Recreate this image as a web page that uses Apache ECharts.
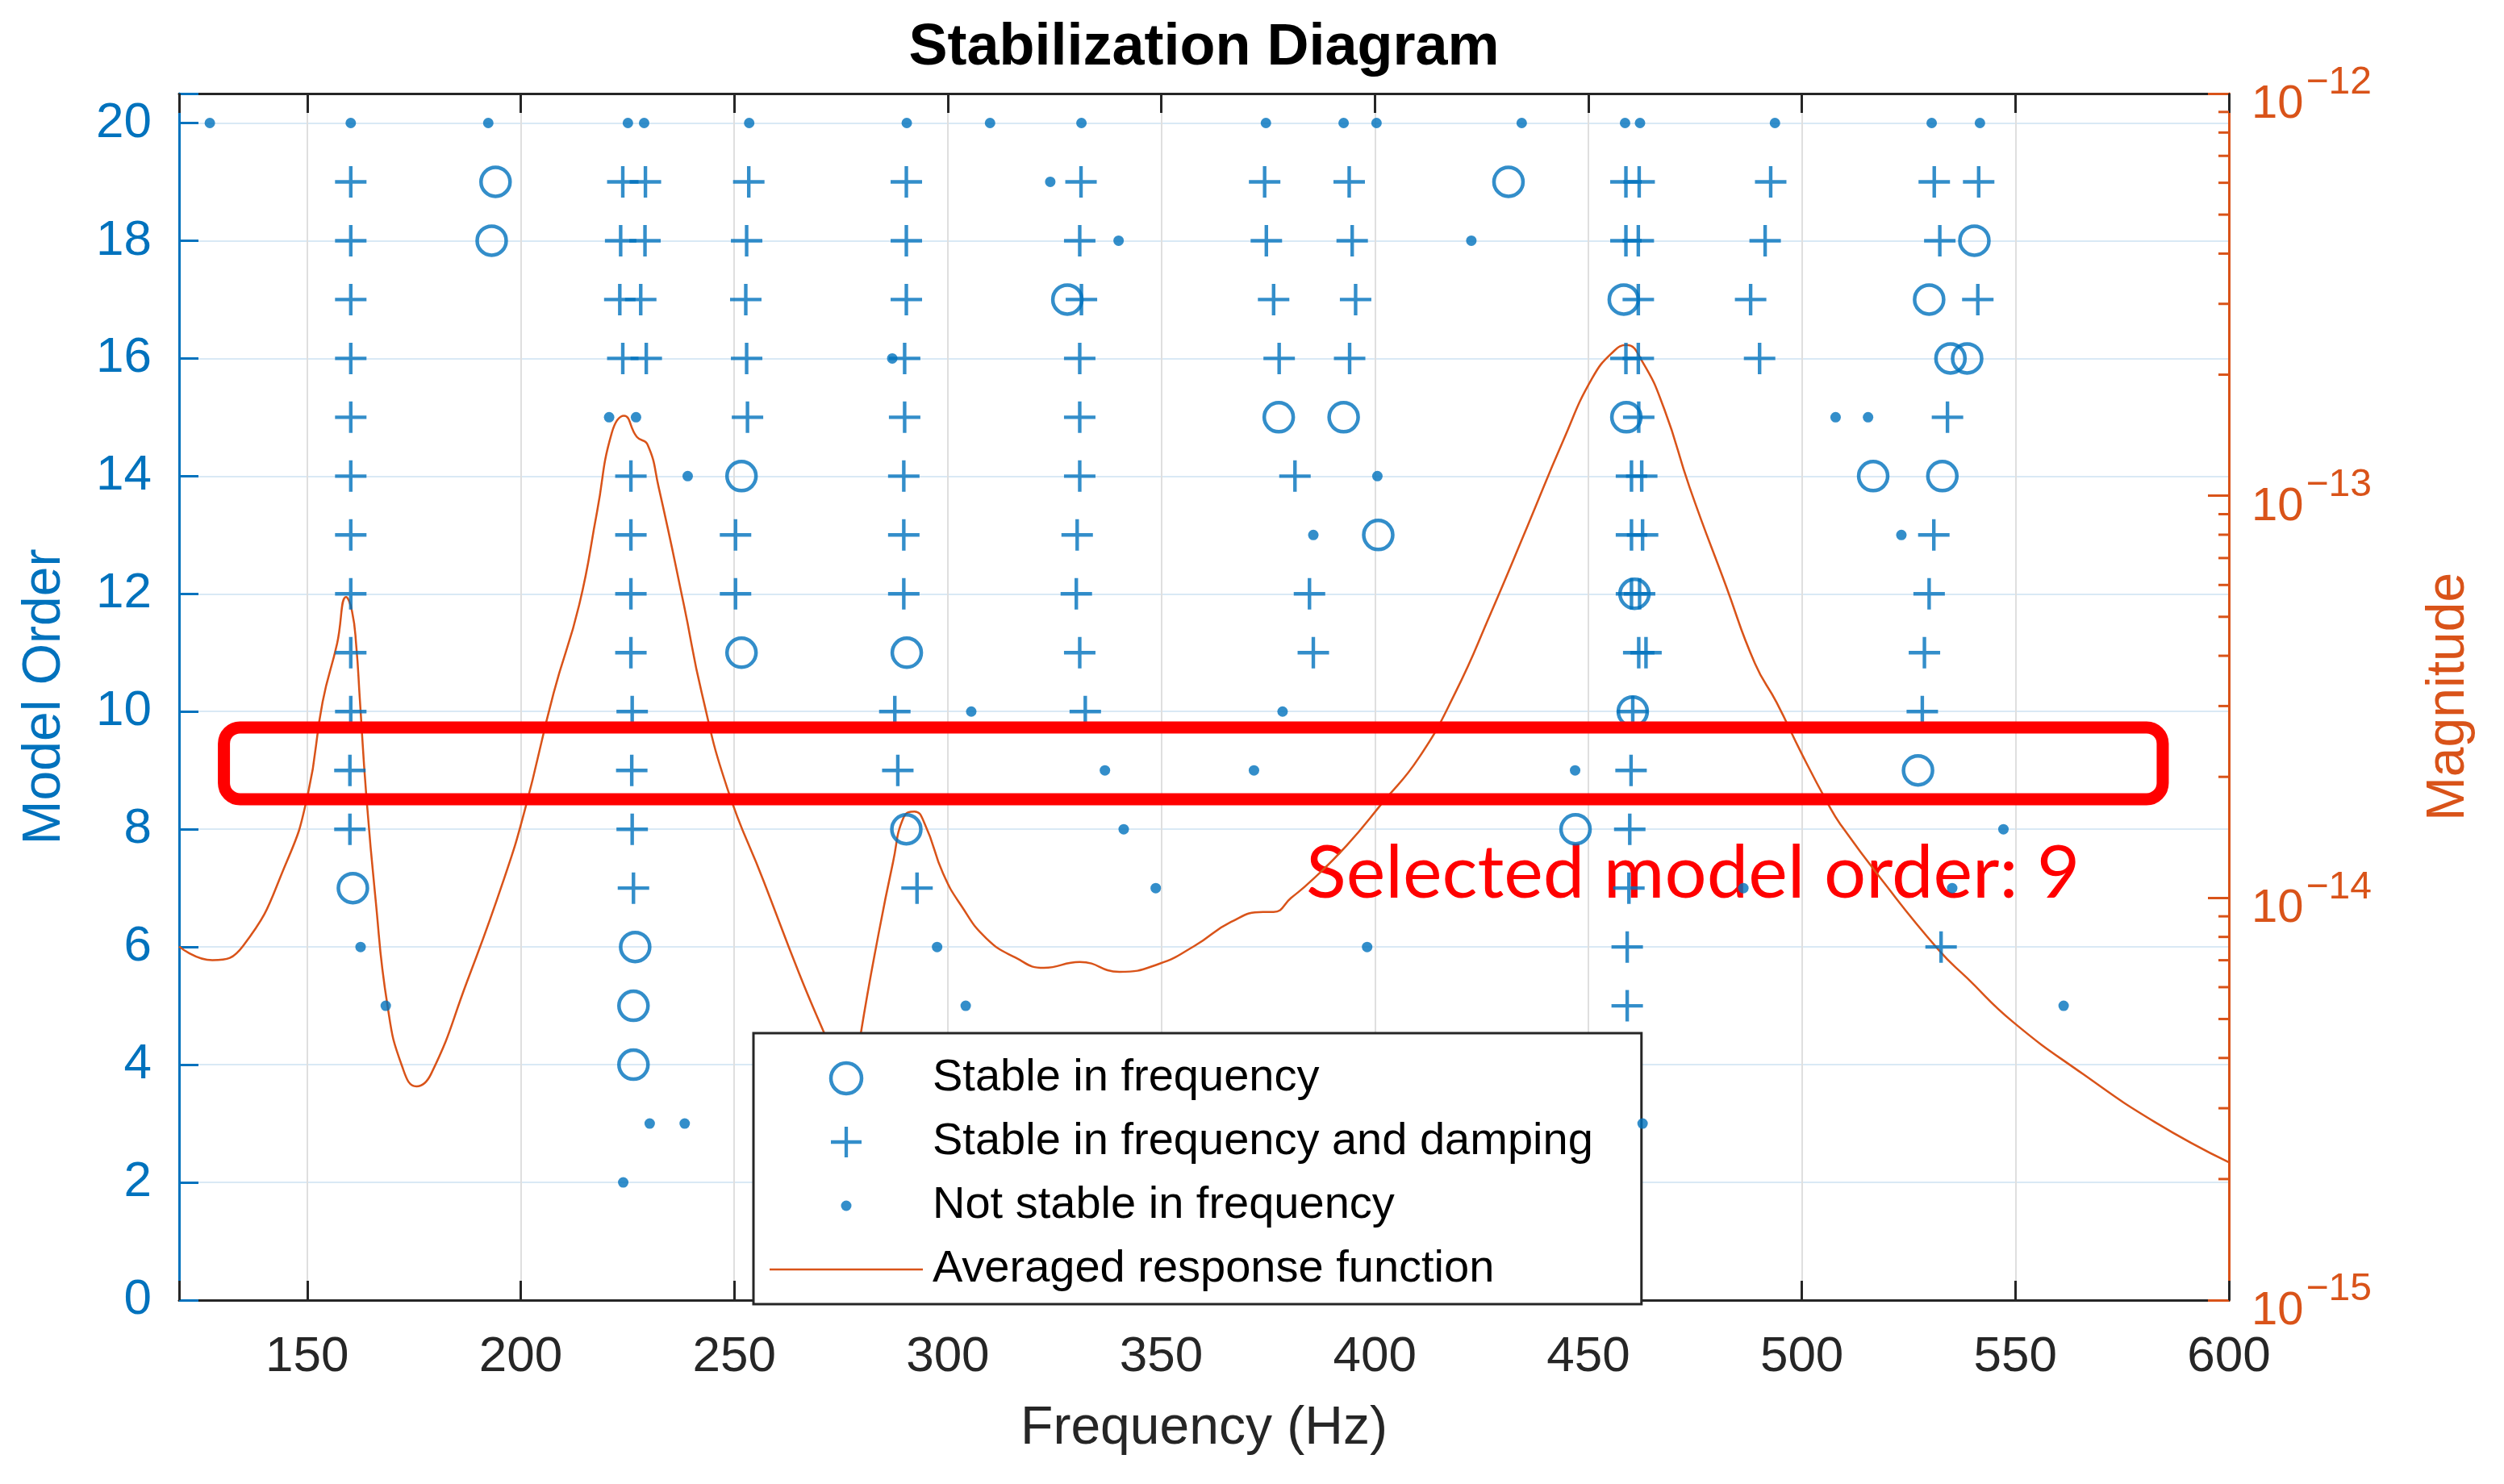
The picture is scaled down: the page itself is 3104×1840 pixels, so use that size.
<!DOCTYPE html>
<html>
<head>
<meta charset="utf-8">
<script src="https://cdn.jsdelivr.net/npm/echarts@6/dist/echarts.min.js"></script>
<style>html,body{margin:0;padding:0;background:#fff}#c{width:3104px;height:1840px}</style>
</head>
<body>
<div id="c"></div>
<script>
// ---------------- DATA ----------------
// [frequency (Hz), model order]
const stableFreqPts = [
  [194.1,19],[431.3,19],[193.2,18],[540.4,18],[328.0,17],[458.3,17],[529.8,17],
  [534.8,16],[538.7,16],[377.5,15],[392.7,15],[458.9,15],[251.7,14],[516.7,14],[532.9,14],
  [400.8,13],[460.8,12],[251.7,11],[290.4,11],[460.4,10],[527.2,9],[290.3,8],[447.0,8],
  [160.7,7],[226.8,6],[226.4,5],[226.4,4]
];
const stableFreqDampPts = [
  [160.2,19],[223.9,19],[229.2,19],[253.4,19],[290.3,19],[331.2,19],[374.2,19],[394.0,19],[458.8,19],[461.9,19],[492.7,19],[531.0,19],[541.4,19],
  [160.2,18],[223.4,18],[229.1,18],[252.9,18],[290.3,18],[330.9,18],[374.6,18],[394.7,18],[458.8,18],[461.7,18],[491.4,18],[532.3,18],
  [160.2,17],[223.2,17],[228.1,17],[252.7,17],[290.3,17],[331.3,17],[376.3,17],[395.5,17],[461.7,17],[488.0,17],[541.2,17],
  [160.2,16],[223.9,16],[229.4,16],[252.9,16],[289.9,16],[330.9,16],[377.6,16],[394.1,16],[458.8,16],[461.7,16],[490.1,16],
  [160.2,15],[253.1,15],[289.9,15],[330.9,15],[461.8,15],[534.1,15],
  [160.2,14],[225.8,14],[289.7,14],[330.9,14],[381.3,14],[460.1,14],[462.5,14],
  [160.2,13],[225.8,13],[250.3,13],[289.7,13],[330.3,13],[460.1,13],[462.7,13],[530.9,13],
  [160.2,12],[225.8,12],[250.3,12],[289.7,12],[330.1,12],[384.7,12],[460.1,12],[462.0,12],[529.8,12],
  [160.2,11],[225.8,11],[330.9,11],[385.6,11],[461.8,11],[463.5,11],[528.7,11],
  [160.2,10],[226.1,10],[287.6,10],[332.2,10],[460.4,10],[528.2,10],
  [160.0,9],[226.0,9],[288.3,9],[460.0,9],
  [160.0,8],[226.1,8],[459.7,8],
  [226.4,7],[292.8,7],[459.5,7],
  [459.1,6],[532.6,6],
  [459.1,5]
];
const notStablePts = [
  [127.2,20],[160.2,20],[192.4,20],[225.1,20],[228.9,20],[253.5,20],[290.4,20],[309.9,20],[331.3,20],[374.5,20],
  [392.7,20],[400.4,20],[434.4,20],[458.6,20],[462.1,20],[493.7,20],[530.4,20],[541.7,20],
  [324.0,19],[340.0,18],[422.6,18],[287.0,16],
  [220.7,15],[227.0,15],[507.9,15],[515.5,15],
  [239.1,14],[400.6,14],[385.6,13],[523.3,13],
  [305.5,10],[378.4,10],[336.8,9],[371.7,9],[446.9,9],
  [341.2,8],[547.2,8],[348.7,7],[486.3,7],[535.2,7],
  [162.5,6],[297.5,6],[398.2,6],[168.4,5],[304.2,5],[561.3,5],
  [230.2,3],[238.4,3],[462.7,3],[224.0,2]
];
// Averaged response function (right axis, log magnitude)
const responseFreq = [120,127.8,135,145.2,150.2,153.6,157,159.1,160.5,161.5,162.3,163.8,165.9,168.8,172.2,175.6,179,187.4,195.9,201,
  207.7,213.7,217.9,221.3,224.2,227.2,229.7,232.3,238.2,242.4,248.4,256.9,265.2,271.2,274,276.5,278.5,279.6,283.8,287.2,
  289.7,292.2,294.7,298.9,303.2,309.0,315.8,322.5,330.9,340.2,349.4,357.8,366.3,373.8,376.3,380.4,385.0,393.4,401.9,410.3,
  418.8,427.2,435.7,444.1,450.9,456.0,458.9,462.7,467.8,473.7,482.2,489.0,494.1,499.9,506.3,509.1,518.4,532.0,538.7,549.5,
  565.8,582.7,600];
const responseMag = [7.57e-15,7.00e-15,7.60e-15,1.23e-14,1.82e-14,3.07e-14,4.29e-14,5.60e-14,5.16e-14,4.22e-14,3.15e-14,1.82e-14,1.02e-14,5.40e-15,3.82e-15,3.40e-15,3.65e-15,6.18e-15,1.10e-14,1.66e-14,
  3.23e-14,5.36e-14,9.16e-14,1.43e-13,1.58e-13,1.40e-13,1.34e-13,1.05e-13,5.36e-14,3.23e-14,1.87e-14,1.10e-14,6.49e-15,4.58e-15,3.93e-15,3.42e-15,3.68e-15,4.58e-15,8.15e-15,1.23e-14,
  1.59e-14,1.64e-14,1.52e-14,1.15e-14,9.55e-15,7.94e-15,7.11e-15,6.70e-15,6.93e-15,6.55e-15,6.85e-15,7.60e-15,8.71e-15,9.23e-15,9.23e-15,1.00e-14,1.10e-14,1.35e-14,1.73e-14,2.23e-14,
  3.23e-14,5.12e-14,8.38e-14,1.37e-13,1.96e-13,2.29e-13,2.37e-13,2.15e-13,1.64e-13,1.05e-13,5.98e-14,3.83e-14,3.06e-14,2.29e-14,1.70e-14,1.52e-14,1.12e-14,7.43e-15,6.32e-15,4.91e-15,
  3.65e-15,2.77e-15,2.20e-15];
const seriesNames = ['Stable in frequency','Stable in frequency and damping','Not stable in frequency','Averaged response function'];
const minorMultipliers = [2,3,4,5,6,7,8,9];
const minorDecades = [-15,-14,-13];
const selectedOrder = 9;
const annotationText = 'Selected model order: ' + selectedOrder;

// ---------------- STYLE ----------------
const BLUE = '#0072BD', ORANGE = '#D95319', GRAY = '#262626';
const FONT = '"Liberation Sans", Arial, Helvetica, sans-serif';
const PLUS_PATH = 'path://M35.5,0L44.5,0L44.5,35.5L80,35.5L80,44.5L44.5,44.5L44.5,80L35.5,80L35.5,44.5L0,44.5L0,35.5L35.5,35.5Z';
const DOT_ICON = 'path://M0,0M38,38M12.5,19A6.5,6.5,0,1,1,25.5,19A6.5,6.5,0,1,1,12.5,19Z';
const LINE_ICON = 'path://M0,0L190,0L190,2.5L0,2.5Z';

const responsePts = responseFreq.map((f, i) => [f, responseMag[i]]);
const minorTickPts = [];
minorDecades.forEach(d => minorMultipliers.forEach(m => minorTickPts.push([600, m * Math.pow(10, d)])));

const chart = echarts.init(document.getElementById('c'), null, {renderer: 'canvas', width: 3104, height: 1840});

const xBase = {
  type: 'value', min: 120, max: 600, splitNumber: 10, minInterval: 50, maxInterval: 50
};

const option = {
  animation: false,
  backgroundColor: '#fff',
  grid: {left: 222, top: 116, right: 341, bottom: 228, containLabel: false},
  xAxis: [
    Object.assign({}, xBase, {
      position: 'bottom',
      name: 'Frequency (Hz)', nameLocation: 'middle', nameGap: 127,
      nameTextStyle: {color: GRAY, fontSize: 66, fontFamily: FONT},
      axisLine: {show: true, onZero: false, lineStyle: {color: GRAY, width: 3}},
      axisTick: {show: true, inside: true, length: 24, lineStyle: {color: GRAY, width: 3}},
      axisLabel: {show: true, margin: 40, color: GRAY, fontSize: 62, fontFamily: FONT,
        formatter: v => (Math.abs(v % 50) < 1e-9) ? String(Math.round(v)) : ''},
      splitLine: {show: true, lineStyle: {color: '#dfdfdf', width: 2}}
    }),
    Object.assign({}, xBase, {
      position: 'top',
      axisLine: {show: true, onZero: false, lineStyle: {color: GRAY, width: 3}},
      axisTick: {show: true, inside: true, length: 24, lineStyle: {color: GRAY, width: 3}},
      axisLabel: {show: false},
      splitLine: {show: false}
    })
  ],
  yAxis: [
    {
      type: 'value', min: 0, max: 20.5, interval: 2, position: 'left',
      name: 'Model Order', nameLocation: 'middle', nameGap: 133, nameRotate: 90,
      nameTextStyle: {color: BLUE, fontSize: 66, fontFamily: FONT},
      axisLine: {show: true, onZero: false, lineStyle: {color: BLUE, width: 3}},
      axisTick: {show: true, inside: true, length: 24, lineStyle: {color: BLUE, width: 3}},
      axisLabel: {margin: 34, color: BLUE, fontSize: 62, fontFamily: FONT,
        formatter: v => (Math.abs(v % 2) < 1e-9) ? String(Math.round(v)) : ''},
      splitLine: {show: true, lineStyle: {color: '#d9e9f5', width: 2}}
    },
    {
      type: 'log', logBase: 10, min: 1e-15, max: 1e-12, position: 'right',
      name: 'Magnitude', nameLocation: 'middle', nameGap: 240, nameRotate: 90,
      nameTextStyle: {color: ORANGE, fontSize: 66, fontFamily: FONT},
      axisLine: {show: true, onZero: false, lineStyle: {color: ORANGE, width: 3}},
      axisTick: {show: true, inside: true, length: 26, lineStyle: {color: ORANGE, width: 3}},
      axisLabel: {
        margin: 28, color: ORANGE, fontFamily: FONT,
        formatter: v => { const e = Math.round(Math.log10(v)); return '{b|10}{s|\u2212' + Math.abs(e) + '}'; },
        rich: {
          b: {fontSize: 58, fontFamily: FONT, color: ORANGE, padding: [28, 0, 0, 0]},
          s: {fontSize: 48, fontFamily: FONT, color: ORANGE, padding: [0, 0, 26, 3]}
        }
      },
      splitLine: {show: false}
    }
  ],
  legend: {
    orient: 'vertical', left: 934, top: 1281,
    padding: [28, 60, 15, 20],
    itemWidth: 190, itemHeight: 38, itemGap: 23,
    backgroundColor: '#fff', borderColor: GRAY, borderWidth: 3,
    selectedMode: false,
    textStyle: {color: '#000', fontSize: 56, fontFamily: FONT, padding: [0, 0, 0, 7]},
    data: [
      {name: seriesNames[0], itemStyle: {color: 'rgba(0,0,0,0)', borderColor: BLUE, borderWidth: 4.5}},
      {name: seriesNames[1]},
      {name: seriesNames[2], icon: DOT_ICON},
      {name: seriesNames[3], icon: LINE_ICON, itemStyle: {color: ORANGE, borderWidth: 0}}
    ]
  },
  series: [
    {
      name: seriesNames[0], type: 'scatter', xAxisIndex: 0, yAxisIndex: 0, data: stableFreqPts,
      symbol: 'circle', symbolSize: 36, z: 4,
      itemStyle: {color: 'rgba(0,0,0,0)', borderColor: BLUE, borderWidth: 4.5}
    },
    {
      name: seriesNames[1], type: 'scatter', xAxisIndex: 0, yAxisIndex: 0, data: stableFreqDampPts,
      symbol: PLUS_PATH, symbolSize: 39, z: 4,
      itemStyle: {color: BLUE}
    },
    {
      name: seriesNames[2], type: 'scatter', xAxisIndex: 0, yAxisIndex: 0, data: notStablePts,
      symbol: 'circle', symbolSize: 13, z: 4,
      itemStyle: {color: BLUE}
    },
    {
      name: seriesNames[3], type: 'line', xAxisIndex: 0, yAxisIndex: 1, data: responsePts,
      symbol: 'none', showSymbol: false, smooth: 0.5, z: 3,
      lineStyle: {color: ORANGE, width: 2.5}, itemStyle: {color: ORANGE}
    },
    {
      name: 'minorTicks', type: 'custom', xAxisIndex: 0, yAxisIndex: 1, data: minorTickPts,
      silent: true, clip: false, z: 5,
      renderItem: (params, api) => {
        const p = api.coord([api.value(0), api.value(1)]);
        return {type: 'line', shape: {x1: p[0] - 13, y1: p[1], x2: p[0], y2: p[1]},
          style: {stroke: ORANGE, lineWidth: 3}};
      }
    }
  ]
};
chart.setOption(option);

// Annotations placed through the chart's own coordinate conversion
const toPx = (x, y) => chart.convertToPixel({seriesIndex: 0}, [x, y]);
const boxTL = toPx(130.5, selectedOrder + 0.73);
const boxBR = toPx(584.5, selectedOrder - 0.49);
const txt = toPx(383.9, selectedOrder - 1.75);
const titleC = toPx(360, 20.5);

chart.setOption({
  graphic: [
    {
      type: 'text', x: titleC[0], y: 60, z: 10,
      style: {text: 'Stabilization Diagram', fill: '#000', font: 'bold 72px "Liberation Sans", Arial, sans-serif',
        align: 'center', verticalAlign: 'middle', textAlign: 'center', textVerticalAlign: 'middle'}
    },
    {
      type: 'text', x: txt[0], y: txt[1], z: 2,
      style: {text: annotationText, fill: '#FF0000', font: '92px Lato, "Open Sans", sans-serif',
        align: 'left', verticalAlign: 'middle', textAlign: 'left', textVerticalAlign: 'middle'}
    },
    {
      type: 'rect', z: 100,
      shape: {x: boxTL[0], y: boxTL[1], width: boxBR[0] - boxTL[0], height: boxBR[1] - boxTL[1], r: 20},
      style: {fill: 'none', stroke: '#FF0000', lineWidth: 15}
    }
  ]
});
</script>
</body>
</html>
